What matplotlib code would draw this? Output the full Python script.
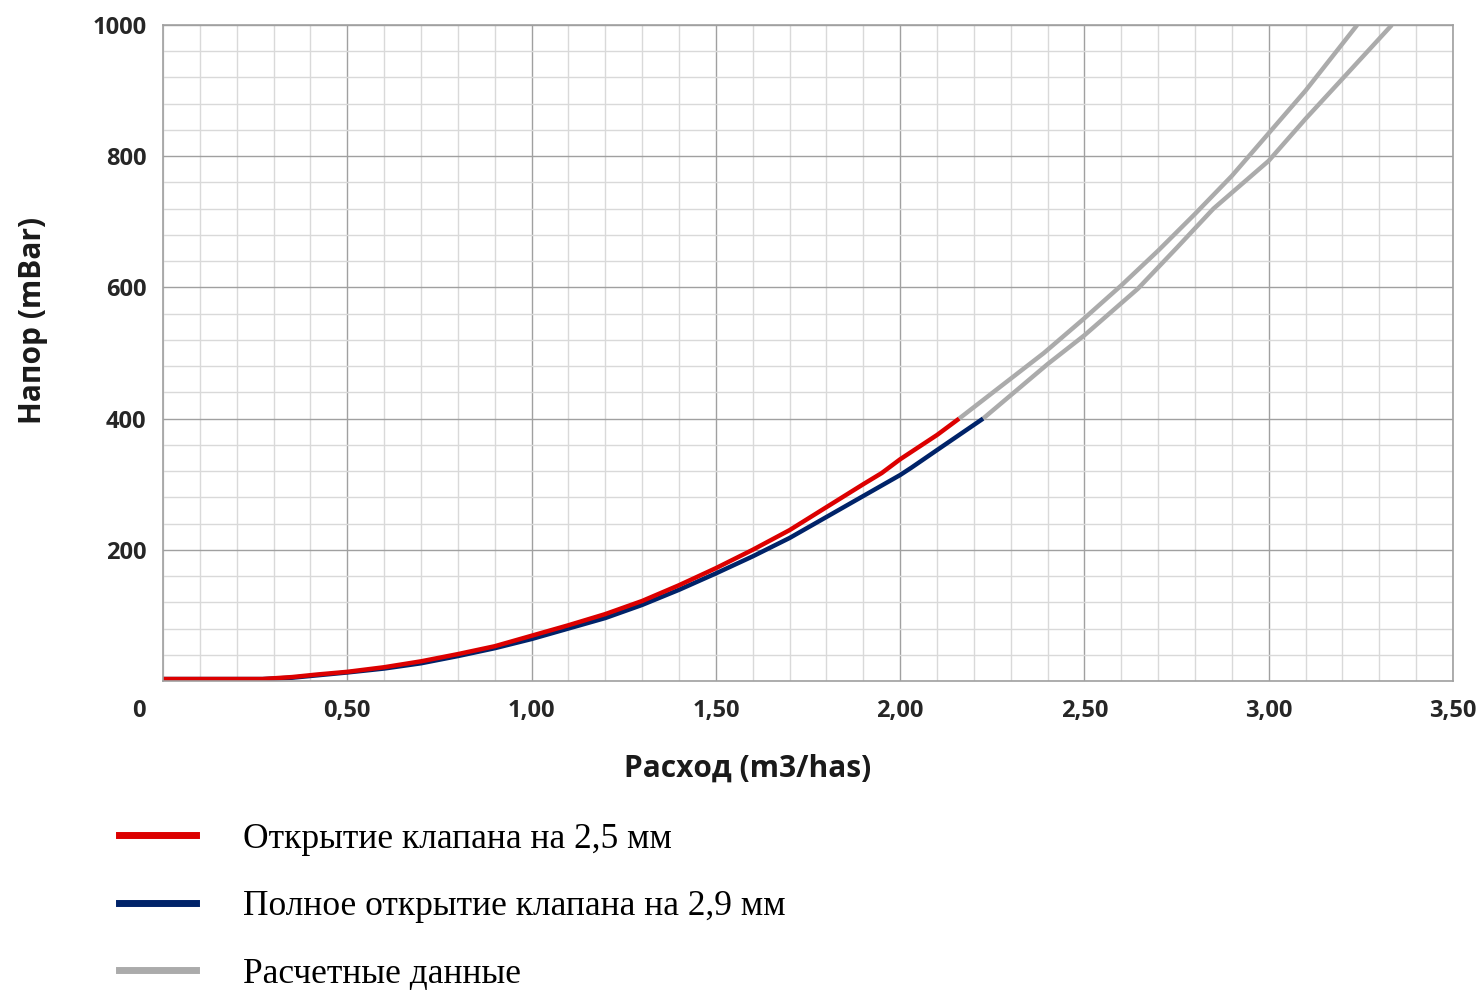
import numpy as np
import matplotlib.pyplot as plt
from matplotlib.ticker import MultipleLocator, FixedLocator
from matplotlib.lines import Line2D

# данные
x_red = [0, 0.1, 0.2, 0.27, 0.35, 0.42, 0.5, 0.6, 0.7, 0.8, 0.9, 1.0, 1.1, 1.2,
         1.3, 1.4, 1.5, 1.6, 1.7, 1.8, 1.9, 1.95, 2.0, 2.1, 2.16]
y_red = [3, 3, 3, 3, 6, 10, 14, 21, 30, 41, 53, 69, 85, 102,
         122, 146, 172, 200, 230, 265, 300, 317, 338, 375, 400]

x_blue = [0, 0.1, 0.2, 0.27, 0.35, 0.5, 0.6, 0.7, 0.8, 0.9, 1.0, 1.1, 1.2, 1.3,
          1.4, 1.5, 1.6, 1.7, 1.8, 1.9, 2.0, 2.03, 2.1, 2.225]
y_blue = [3, 3, 3, 3, 5, 13, 19, 27, 38, 50, 64, 80, 96, 116,
          139, 164, 190, 218, 250, 282, 314, 325, 352, 400]

x_calc1 = [2.16, 2.39, 2.5, 2.6, 2.7, 2.8, 2.9, 3.0, 3.1, 3.24]
y_calc1 = [400, 500, 553, 603, 656, 712, 770, 835, 900, 1000]

x_calc2 = [2.225, 2.4, 2.5, 2.645, 2.75, 2.85, 3.0, 3.1, 3.2, 3.334]
y_calc2 = [400, 483, 527, 598, 660, 720, 793, 857, 918, 1000]

xticks = [0.5, 1.0, 1.5, 2.0, 2.5, 3.0, 3.5]
xtick_labels = ["0,50", "1,00", "1,50", "2,00", "2,50", "3,00", "3,50"]
yticks = [200, 400, 600, 800, 1000]

legend_labels = ["Открытие клапана на 2,5 мм",
                 "Полное открытие клапана на 2,9 мм",
                 "Расчетные данные"]

RED = "#DC0000"
BLUE = "#002369"
GRAY = "#ABABAB"
SANS = ["Open Sans", "DejaVu Sans"]

fig = plt.figure(figsize=(14.84, 10), dpi=100)
ax = fig.add_axes([163/1484, 319/1000, 1290/1484, 656/1000])

ax.plot(x_calc1, y_calc1, color=GRAY, lw=3.2, solid_capstyle="butt")
ax.plot(x_calc2, y_calc2, color=GRAY, lw=3.2, solid_capstyle="butt")
ax.plot(x_blue, y_blue, color=BLUE, lw=3.2, solid_capstyle="butt")
ax.plot(x_red, y_red, color=RED, lw=3.2, solid_capstyle="butt")

ax.set_xlim(0, 3.5)
ax.set_ylim(0, 1000)

ax.xaxis.set_major_locator(FixedLocator(xticks))
ax.set_xticklabels(xtick_labels)
ax.xaxis.set_minor_locator(MultipleLocator(0.1))
ax.yaxis.set_major_locator(FixedLocator(yticks))
ax.yaxis.set_minor_locator(MultipleLocator(40))

ax.grid(which="major", color="#A0A0A0", lw=1.0)
ax.grid(which="minor", color="#D9D9D9", lw=1.0)
ax.set_axisbelow(True)
for s in ax.spines.values():
    s.set_color("#A0A0A0")
    s.set_linewidth(1.2)

ax.tick_params(which="both", length=0, colors="#262626")
ax.tick_params(axis="x", pad=13)
ax.tick_params(axis="y", pad=12)
for lab in ax.get_xticklabels() + ax.get_yticklabels():
    lab.set_fontfamily(SANS)
    lab.set_fontweight("bold")
    lab.set_fontsize(17)
# подпись "0" под осью слева
ax.text(-0.0186, -27, "0", transform=ax.get_yaxis_transform(), ha="center", va="top",
        color="#262626", fontfamily=SANS, fontweight="bold", fontsize=17)

ax.set_xlabel("Расход (m3/has)", fontfamily=SANS, fontweight="bold", fontsize=21.5,
              color="#1a1a1a")
ax.xaxis.set_label_coords(0.4535, -0.111)
ax.set_ylabel("Напор (mBar)", fontfamily=SANS, fontweight="bold", fontsize=21.5,
              color="#1a1a1a")
ax.yaxis.set_label_coords(-0.0895, 0.55)

handles = [Line2D([], [], color=RED, lw=5),
           Line2D([], [], color=BLUE, lw=5),
           Line2D([], [], color=GRAY, lw=5)]
fig.legend(handles, legend_labels, loc="upper left", bbox_to_anchor=(87/1484, 1 - 791/1000),
           frameon=False, prop=dict(family=["Liberation Serif", "DejaVu Serif"], size=25.5),
           handlelength=2.18, handletextpad=1.33, labelspacing=0.97)

fig.savefig("out.png", dpi=100)
